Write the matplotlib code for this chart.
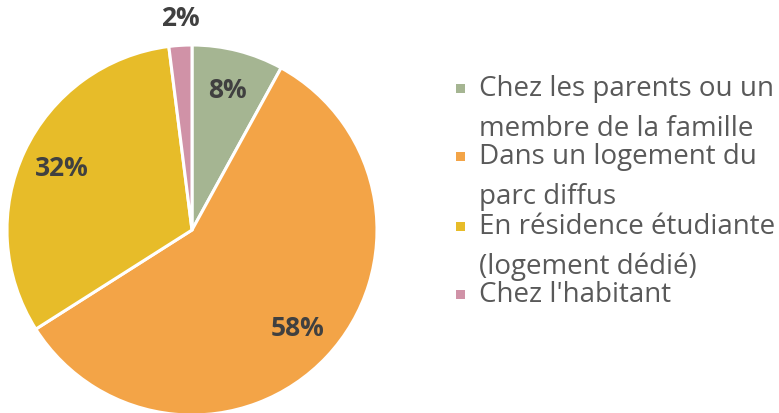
import matplotlib.pyplot as plt
from matplotlib.patches import Rectangle

plt.rcParams['font.family'] = ['Open Sans', 'DejaVu Sans']

labels = ["Chez les parents ou un\nmembre de la famille",
          "Dans un logement du\nparc diffus",
          "En résidence étudiante\n(logement dédié)",
          "Chez l'habitant"]
values = [8, 58, 32, 2]
colors = ['#A5B592', '#F3A447', '#E7BC29', '#D092A7']

fig = plt.figure(figsize=(7.79, 4.13), dpi=100)
ax = fig.add_axes([0, 0, 1, 1])

wedges, texts, autotexts = ax.pie(
    values, colors=colors, startangle=90, counterclock=False,
    center=(192, 183), radius=185, autopct='%d%%', pctdistance=0.78,
    wedgeprops=dict(edgecolor='white', linewidth=2.2),
    textprops=dict(color='#404040', fontsize=19, fontweight='bold'))
# small slice label sits outside the pie
autotexts[3].set_position((180, 394))

ax.set_xlim(0, 779)
ax.set_ylim(0, 413)
ax.set_aspect('equal')
ax.axis('off')

# legend drawn by hand: marker next to first line of each entry
first_line_y = [325, 257, 187, 119]
for lab, col, y in zip(labels, colors, first_line_y):
    ax.add_patch(Rectangle((456, y - 4.5), 9, 9, facecolor=col, edgecolor='none'))
    ax.text(479, y + 13, lab, fontsize=20, color='#595959', va='top', ha='left',
            linespacing=1.55)

fig.savefig('out.png', dpi=100)
